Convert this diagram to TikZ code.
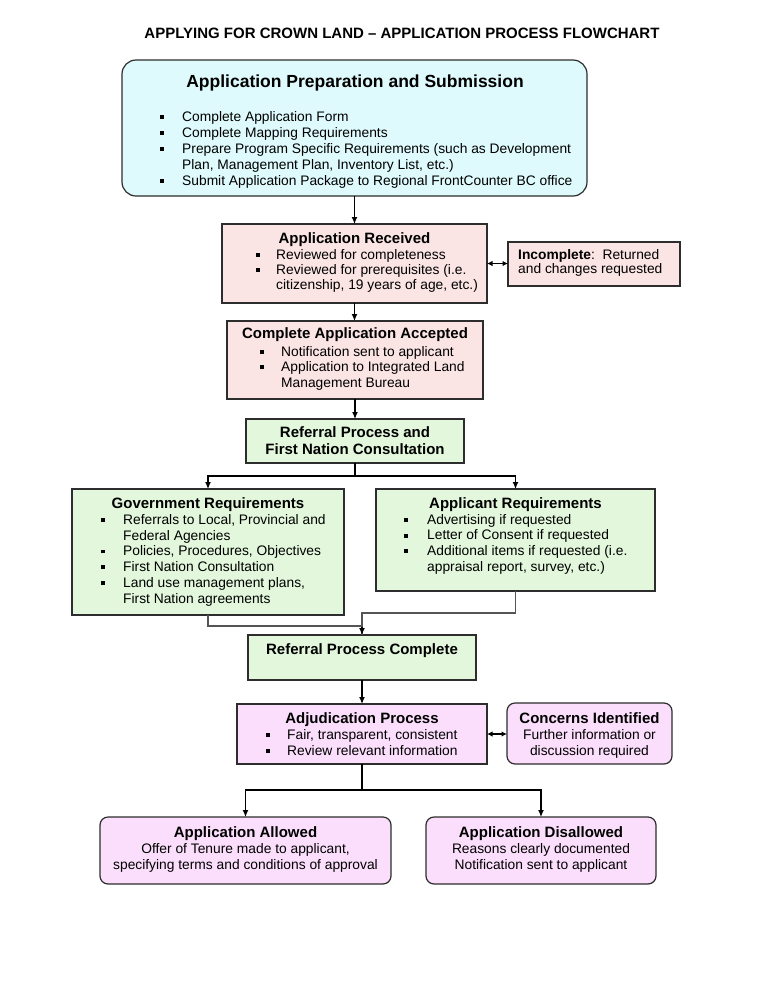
\documentclass[tikz,border=0pt]{standalone}
\usepackage{fontspec}
\setmainfont{Liberation Sans}
\usetikzlibrary{arrows.meta}
\definecolor{cyanf}{RGB}{223,250,252}
\definecolor{pinkf}{RGB}{251,228,228}
\definecolor{greenf}{RGB}{226,247,220}
\definecolor{magf}{RGB}{251,222,251}
\definecolor{edge}{RGB}{45,45,45}
\definecolor{mrgc}{RGB}{85,85,85}
\newcommand{\fs}[1]{\fontsize{13.8}{#1}\selectfont}
\newcommand{\st}{\rule{0pt}{11pt}}
\newcommand{\bl}[1]{\makebox[#1pt][l]{\hspace*{-0.3pt}\rule[2.4pt]{3.9pt}{3.9pt}}}
\newcommand{\ind}[1]{\hspace*{#1pt}}
\newcommand{\tb}[1]{{\fontsize{15}{16}\selectfont\bfseries #1}}
\newcommand{\mkbox}[7]{\node[#1, fill=#2, minimum width={#6-#4}, minimum height={#7-#5}] (#3) at (#4,#5) {};}
\tikzset{
  box/.style={draw=edge, line width=1.2pt, inner sep=0pt, outer sep=0pt, anchor=north west},
  rbox/.style={box, rounded corners=8pt},
  lst/.style={inner sep=0pt, align=left, anchor=north west},
  ctr/.style={inner sep=0pt, align=center, anchor=north},
  ttlfont/.style={font=\fontsize{15}{17.5}\selectfont\bfseries},
  arr/.style={line width=1.2pt, draw=black, -{Latex[length=7pt,width=6pt]}},
  darr/.style={line width=1.2pt, draw=black, {Latex[length=5.5pt,width=5.5pt]}-{Latex[length=5.5pt,width=5.5pt]}},
  mrg/.style={line width=1.2pt, draw=mrgc},
}
\begin{document}
\begin{tikzpicture}[x=1pt,y=-1pt]
\useasboundingbox[fill=white] (0,0) rectangle (768,994);

\node[ttlfont, inner sep=0pt, anchor=base] (title) at (402,38) {APPLYING FOR CROWN LAND – APPLICATION PROCESS FLOWCHART};

% boxes
\mkbox{box, rounded corners=14pt}{cyanf}{b1}{122}{60}{587}{196}
\mkbox{box}{pinkf}{b2}{222}{224}{487}{303}
\mkbox{box}{pinkf}{inc}{508}{242}{680}{286}
\mkbox{box}{pinkf}{b3}{227}{321}{483}{399}
\mkbox{box}{greenf}{b4}{246}{419}{464}{463}
\mkbox{box}{greenf}{gov}{72}{489}{344}{615}
\mkbox{box}{greenf}{app}{376}{489}{655}{591}
\mkbox{box}{greenf}{rpc}{248}{635}{476}{680}
\mkbox{box}{magf}{adj}{237}{704}{487}{764}
\mkbox{rbox}{magf}{con}{507}{703}{672}{764}
\mkbox{rbox}{magf}{alw}{100}{817}{391}{884}
\mkbox{rbox}{magf}{dis}{426}{817}{656}{884}

% texts
\node[inner sep=0pt, anchor=base, font=\fontsize{17.5}{20}\selectfont\bfseries] (b1t) at (355,87) {Application Preparation and Submission};
\node[lst, font=\fs{16}] (b1l) at (160.3,110) {\st\bl{21.7}Complete Application Form\\
\bl{21.7}Complete Mapping Requirements\\
\bl{21.7}Prepare Program Specific Requirements (such as Development\\
\ind{21.7}Plan, Management Plan, Inventory List, etc.)\\
\bl{21.7}Submit Application Package to Regional FrontCounter BC office};

\node[ctr, ttlfont] (b2t) at (354.5,232) {\st Application Received};
\node[lst, font=\fs{15}] (b2l) at (256.3,248) {\st\bl{19.7}Reviewed for completeness\\
\bl{19.7}Reviewed for prerequisites (i.e.\\
\ind{19.7}citizenship, 19 years of age, etc.)};
\node[lst, font=\fs{14.5}] (inct) at (518,248) {\st\textbf{Incomplete}:\ \ Returned\\and changes requested};

\node[ctr, ttlfont] (b3t) at (355,327) {\st Complete Application Accepted};
\node[lst, font=\fs{15.5}] (b3l) at (260.3,345) {\st\bl{20.7}Notification sent to applicant\\
\bl{20.7}Application to Integrated Land\\
\ind{20.7}Management Bureau};

\node[ctr, ttlfont] (b4t) at (355,426) {\st Referral Process and\\First Nation Consultation};

\node[ctr, ttlfont] (govt) at (208,497) {\st Government Requirements};
\node[lst, font=\fs{15.8}] (govl) at (101.3,513) {\st\bl{21.7}Referrals to Local, Provincial and\\
\ind{21.7}Federal Agencies\\
\bl{21.7}Policies, Procedures, Objectives\\
\bl{21.7}First Nation Consultation\\
\bl{21.7}Land use management plans,\\
\ind{21.7}First Nation agreements};

\node[ctr, ttlfont] (appt) at (515.5,497) {\st Applicant Requirements};
\node[lst, font=\fs{15.7}] (appl) at (404.3,513) {\st\bl{22.7}Advertising if requested\\
\bl{22.7}Letter of Consent if requested\\
\bl{22.7}Additional items if requested (i.e.\\
\ind{22.7}appraisal report, survey, etc.)};

\node[ctr, ttlfont] (rpct) at (362,643) {\st Referral Process Complete};

\node[ctr, ttlfont] (adjt) at (362,712) {\st Adjudication Process};
\node[lst, font=\fs{16}] (adjl) at (266.3,728) {\st\bl{20.7}Fair, transparent, consistent\\
\bl{20.7}Review relevant information};

\node[ctr, font=\fs{16}] (cont) at (589.5,712) {\st\tb{Concerns Identified}\\Further information or\\discussion required};
\node[ctr, font=\fs{16}] (alwt) at (245.5,826) {\st\tb{Application Allowed}\\Offer of Tenure made to applicant,\\specifying terms and conditions of approval};
\node[ctr, font=\fs{16}] (dist) at (541,826) {\st\tb{Application Disallowed}\\Reasons clearly documented\\Notification sent to applicant};

% connectors
\draw[arr] (b1.south) -- (b2.north);
\draw[arr] (b2.south) -- (b2.south |- b3.north);
\draw[darr] (b2.east) -- (b2.east -| inc.west);
\draw[arr] (b3.south) -- (b3.south |- b4.north);
\draw[arr] (b4.south) -- ++(0,13) -| (gov.north);
\draw[arr] (b4.south) -- ++(0,13) -| (app.north);
\draw[mrg] (gov.south) -- ++(0,11) -| (rpc.north);
\draw[mrg] (app.south) -- ++(0,22) -| ([yshift=7pt]rpc.north);
\draw[arr] ([yshift=8pt]rpc.north) -- (rpc.north);
\draw[arr] (rpc.south) -- (adj.north);
\draw[darr] (adj.east) -- (adj.east -| con.west);
\draw[arr] (adj.south) -- ++(0,26) -| (alw.north);
\draw[arr] (adj.south) -- ++(0,26) -| (dis.north);
\end{tikzpicture}
\end{document}
